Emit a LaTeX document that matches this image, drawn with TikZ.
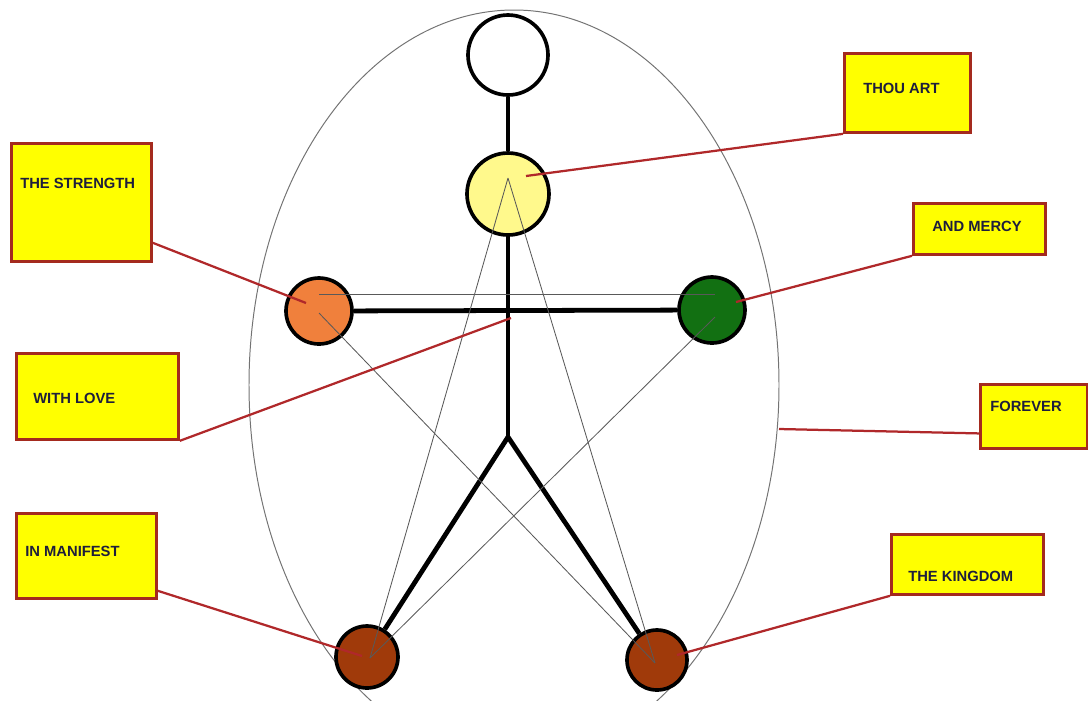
\documentclass[tikz,border=0pt]{standalone}
\usepackage{fontspec}
\setmainfont{Liberation Sans}
\usepackage{tikz}
\definecolor{boxyellow}{HTML}{FFFF00}
\definecolor{boxred}{HTML}{A42A1E}
\definecolor{linkred}{HTML}{B0282A}
\definecolor{textnavy}{HTML}{1E1E3C}
\definecolor{heartyellow}{HTML}{FFF98C}
\definecolor{handorange}{HTML}{F0803C}
\definecolor{handgreen}{HTML}{127012}
\definecolor{footbrown}{HTML}{A03A0A}

\begin{document}
\begin{tikzpicture}[x=0.025cm, y=-0.025cm,
  joint/.style={circle, draw=black, line width=2.6pt, inner sep=0pt},
  stick/.style={line width=3.4pt},
  guide/.style={black!65, line width=0.6pt},
  lbox/.style={draw=boxred, fill=boxyellow, line width=2pt, anchor=north west, inner sep=0pt},
  ltext/.style={anchor=west, inner sep=0pt, text=textnavy, font=\fontsize{10.5}{12}\selectfont\bfseries},
  link/.style={linkred, line width=1.6pt}]
  % Dimensiones (1 px = 0.025 cm)
  \def\px{0.025cm}
  \clip (0,0) rectangle (1088,700);

  % Elipse exterior
  \draw[black!55, line width=0.7pt] (514,385) ellipse [x radius=265, y radius=375];

  % Circulos
  \node[joint, fill=white, minimum size=80*\px] (head) at (508,55) {};
  \node[joint, fill=heartyellow, minimum size=82*\px] (heart) at (508,194) {};
  \node[joint, fill=handorange, minimum size=66*\px] (lhand) at (319,311) {};
  \node[joint, fill=handgreen, minimum size=66*\px] (rhand) at (712,310) {};
  \node[joint, fill=footbrown, minimum size=62*\px] (lfoot) at (367,657) {};
  \node[joint, fill=footbrown, minimum size=60*\px] (rfoot) at (657,660) {};
  \coordinate (hip) at (508,437);

  % Figura
  \draw[stick] (head) -- (heart) -- (hip);
  \draw[stick] (lhand) -- (rhand);
  \draw[stick] (lfoot) -- (hip) -- (rfoot);

  % Lineas finas
  \coordinate (apex) at (508,178);
  \coordinate (lfootc) at (370,658);
  \coordinate (rfootc) at (655,663);
  \coordinate (lhandc) at (319,313);
  \coordinate (rhandc) at (715,317);
  \coordinate (lbar) at (319,294);
  \coordinate (rbar) at (715,294);
  \draw[guide] (apex) -- (lfootc) (apex) -- (rfootc);
  \draw[guide] (lhandc) -- (rfootc) (rhandc) -- (lfootc);
  \draw[guide] (lbar) -- (rbar);

  % Cajas
  \node[lbox, minimum width=126*\px, minimum height=79*\px] (thou) at (843,52) {};
  \node[lbox, minimum width=140*\px, minimum height=118*\px] (strength) at (10,142) {};
  \node[lbox, minimum width=132*\px, minimum height=51*\px] (mercy) at (912,202) {};
  \node[lbox, minimum width=162*\px, minimum height=86*\px] (love) at (15,352) {};
  \node[lbox, minimum width=107*\px, minimum height=64*\px] (forever) at (979,383) {};
  \node[lbox, minimum width=140*\px, minimum height=85*\px] (manifest) at (15,512) {};
  \node[lbox, minimum width=152*\px, minimum height=60*\px] (kingdom) at (890,533) {};

  % Textos
  \node[ltext] (thou-t) at (863,88) {THOU ART};
  \node[ltext] (strength-t) at (20,183) {THE STRENGTH};
  \node[ltext] (mercy-t) at (932,226) {AND MERCY};
  \node[ltext] (love-t) at (33,398) {WITH LOVE};
  \node[ltext] (forever-t) at (990,406) {FOREVER};
  \node[ltext] (manifest-t) at (25,551) {IN MANIFEST};
  \node[ltext] (kingdom-t) at (908,576) {THE KINGDOM};

  % Conectores rojos
  \coordinate (pheart) at (526,176);
  \coordinate (plhand) at (306,303);
  \coordinate (prhand) at (736,302);
  \coordinate (pbody) at (511,318);
  \coordinate (pedge) at (779,429);
  \coordinate (plfoot) at (362,656);
  \coordinate (prfoot) at (677,655);
  \draw[link] (thou.south west) -- (pheart);
  \draw[link] ([yshift=0.5cm]strength.south east) -- (plhand);
  \draw[link] (mercy.south west) -- (prhand);
  \draw[link] (love.south east) -- (pbody);
  \draw[link] ([yshift=-0.425cm]forever.west) -- (pedge);
  \draw[link] ([yshift=0.225cm]manifest.south east) -- (plfoot);
  \draw[link] (kingdom.south west) -- (prfoot);
\end{tikzpicture}
\end{document}
